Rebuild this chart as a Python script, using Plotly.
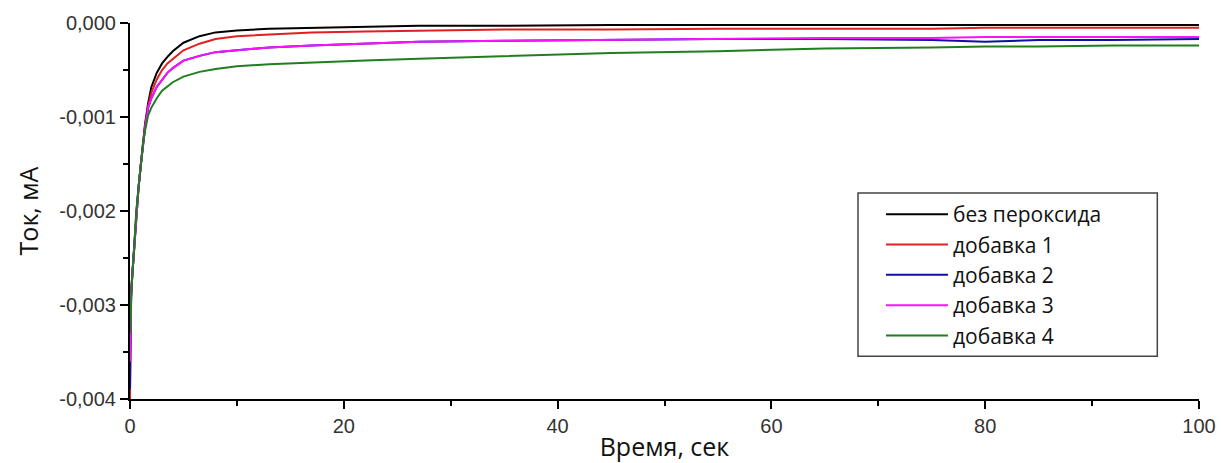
import plotly.graph_objects as go

# time points (s)
t = [0, 0.05, 0.1, 0.2, 0.4, 0.6, 0.8, 1.0, 1.2, 1.4, 1.7, 2.0, 2.5, 3.0, 3.5, 4.0, 5.0, 6.5, 8.0,
     10, 13, 17, 22, 27, 35, 45, 55, 65, 75, 80, 85, 92, 100]

black = [-0.0031, -0.0031, -0.0029, -0.0027, -0.0024, -0.0020, -0.00175, -0.00152, -0.0013, -0.00108,
         -0.00085, -0.00068, -0.00053, -0.00043, -0.00036, -0.0003, -0.00021, -0.00014, -0.0001,
         -0.00008, -0.00006, -0.00005, -0.00004, -0.00003, -0.00003, -0.00002, -0.00002,
         -0.00002, -0.00002, -0.00002, -0.00002, -0.00002, -0.00002]
red = [-0.0040, -0.0031, -0.0029, -0.0027, -0.0024, -0.0020, -0.00175, -0.00152, -0.0013, -0.0011,
       -0.00088, -0.00074, -0.0006, -0.0005, -0.00043, -0.00038, -0.00029, -0.00022, -0.00017,
       -0.00014, -0.00012, -0.0001, -0.00009, -0.00008, -0.00007, -0.00007, -0.00006,
       -0.00006, -0.00006, -0.00005, -0.00005, -0.00005, -0.00005]
blue = [-0.0039, -0.0031, -0.0029, -0.0027, -0.0024, -0.0020, -0.00175, -0.00152, -0.0013, -0.00112,
        -0.0009, -0.0008, -0.00068, -0.0006, -0.00053, -0.00048, -0.0004, -0.00035, -0.00031,
        -0.00029, -0.00026, -0.00024, -0.00022, -0.0002, -0.00019, -0.00018, -0.00017,
        -0.00017, -0.00018, -0.0002, -0.00018, -0.00018, -0.00017]
magenta = [-0.0036, -0.0031, -0.0029, -0.0027, -0.0024, -0.0020, -0.00175, -0.00152, -0.0013, -0.00112,
           -0.0009, -0.0008, -0.00068, -0.0006, -0.00053, -0.00048, -0.0004, -0.00035, -0.00031,
           -0.00029, -0.00026, -0.00024, -0.00022, -0.0002, -0.00019, -0.00018, -0.00017,
           -0.00016, -0.00016, -0.00015, -0.00015, -0.00015, -0.00015]
green = [-0.0033, -0.0031, -0.0029, -0.0027, -0.0024, -0.0020, -0.00175, -0.00152, -0.0013, -0.00115,
         -0.00098, -0.0009, -0.0008, -0.00072, -0.00067, -0.00063, -0.00057, -0.00052, -0.00049,
         -0.00046, -0.00044, -0.00042, -0.0004, -0.00038, -0.00035, -0.00032, -0.0003,
         -0.00027, -0.00026, -0.00025, -0.00025, -0.00024, -0.00024]

series_names = ["без пероксида", "добавка 1", "добавка 2", "добавка 3", "добавка 4"]
series_values = [black, red, blue, magenta, green]
series_colors = ["#000000", "#e02020", "#1010a0", "#ff10ff", "#1f7f1f"]

x_tick_vals = [0, 20, 40, 60, 80, 100]
x_tick_labels = ["0", "20", "40", "60", "80", "100"]
y_tick_vals = [-0.004, -0.003, -0.002, -0.001, 0.0]
y_tick_labels = ["-0,004", "-0,003", "-0,002", "-0,001", "0,000"]

fig = go.Figure()
for name, vals, col in zip(series_names, series_values, series_colors):
    fig.add_trace(go.Scatter(x=t, y=vals, mode="lines", name=name,
                             line=dict(color=col, width=2)))

tick_font = dict(family="Liberation Sans, Arial, sans-serif", size=20, color="#333333")
title_font = dict(family="Open Sans, sans-serif", size=25, color="#111111")

# legend frame (paper coords of the plot area)
lx0, lx1, ly0, ly1 = 0.681, 0.961, 0.114, 0.548
fig.add_shape(type="rect", xref="paper", yref="paper",
              x0=lx0, x1=lx1, y0=ly0, y1=ly1,
              line=dict(color="#444444", width=1.5), fillcolor="white", layer="below")

fig.update_layout(
    width=1221, height=463,
    margin=dict(l=130, r=22, t=23, b=64, autoexpand=False),
    plot_bgcolor="white", paper_bgcolor="white",
    showlegend=True,
    legend=dict(x=0.7025, y=ly1 - 0.003, xanchor="left", yanchor="top",
                bgcolor="rgba(0,0,0,0)", borderwidth=0,
                font=dict(family="Open Sans, sans-serif", size=21, color="#111111"),
                itemwidth=62, tracegroupgap=0),
)
fig.update_xaxes(
    range=[0, 100], showgrid=False, zeroline=False, automargin=False,
    showline=True, linecolor="black", linewidth=2,
    ticks="outside", ticklen=8, tickwidth=2, tickcolor="black",
    tickvals=x_tick_vals, ticktext=x_tick_labels, tickfont=tick_font,
    minor=dict(ticks="outside", ticklen=5, tickwidth=2, tickcolor="black", dtick=10, showgrid=False),
    title=dict(text="Время, сек", font=title_font, standoff=7),
)
fig.update_yaxes(
    range=[-0.004, 0.0], showgrid=False, zeroline=False, automargin=False,
    showline=True, linecolor="black", linewidth=2,
    ticks="outside", ticklen=8, tickwidth=2, tickcolor="black",
    tickvals=y_tick_vals, ticktext=y_tick_labels, tickfont=tick_font,
    minor=dict(ticks="outside", ticklen=5, tickwidth=2, tickcolor="black", dtick=0.0005, showgrid=False),
    title=dict(text="Ток, мА", font=title_font, standoff=14),
)

fig.write_html("out.html")
